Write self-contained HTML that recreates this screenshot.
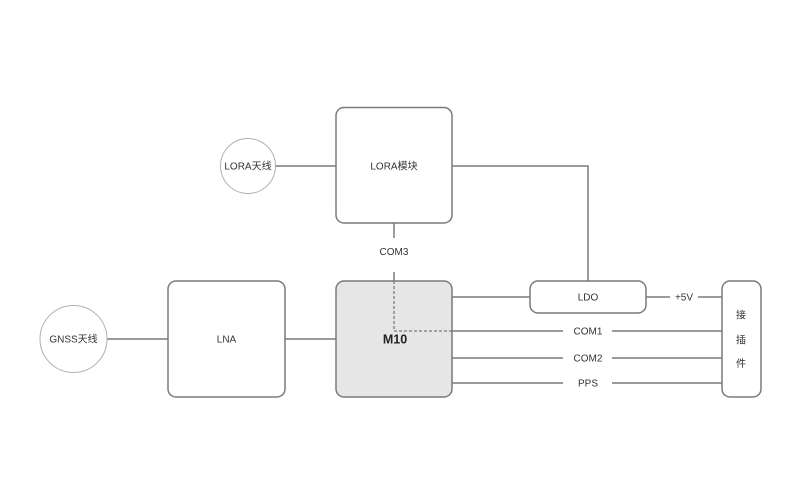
<!DOCTYPE html>
<html>
<head>
<meta charset="utf-8">
<style>
html,body{margin:0;padding:0;background:#fff;}
svg{display:block;}
text{font-family:"Liberation Sans","Noto Sans CJK SC",sans-serif;fill:#333;font-size:10px;}
</style>
</head>
<body>
<svg width="800" height="500" viewBox="0 0 800 500" xmlns="http://www.w3.org/2000/svg">
  <g fill="none" stroke="#7a7a7a" stroke-width="1.5">
    <!-- LORA module -->
    <rect x="336" y="107.5" width="116" height="115.5" rx="8"/>
    <!-- LNA -->
    <rect x="168" y="281" width="117" height="116" rx="8"/>
    <!-- M10 -->
    <rect x="336" y="281" width="116" height="116" rx="8" fill="#e6e6e6"/>
    <!-- LDO -->
    <rect x="530" y="281" width="116" height="32" rx="8"/>
    <!-- connector -->
    <rect x="722" y="281" width="39" height="116" rx="8"/>
    <!-- lines -->
    <line x1="276" y1="166" x2="336" y2="166"/>
    <polyline points="452,166 588,166 588,281"/>
    <line x1="394" y1="223" x2="394" y2="238"/>
    <line x1="394" y1="272" x2="394" y2="281"/>
    <line x1="107" y1="339" x2="168" y2="339"/>
    <line x1="285" y1="339" x2="336" y2="339"/>
    <line x1="452" y1="297" x2="530" y2="297"/>
    <line x1="646" y1="297" x2="670" y2="297"/>
    <line x1="698" y1="297" x2="722" y2="297"/>
    <line x1="452" y1="331" x2="563" y2="331"/>
    <line x1="612" y1="331" x2="722" y2="331"/>
    <line x1="452" y1="358" x2="563" y2="358"/>
    <line x1="612" y1="358" x2="722" y2="358"/>
    <line x1="452" y1="383" x2="563" y2="383"/>
    <line x1="612" y1="383" x2="722" y2="383"/>
  </g>
  <!-- dashed -->
  <polyline points="394,281 394,331 452,331" fill="none" stroke="#7a7a7a" stroke-width="1.3" stroke-dasharray="3,2"/>
  <!-- circles -->
  <circle cx="248" cy="166" r="27.5" fill="#fff" stroke="#b0b0b0" stroke-width="1"/>
  <circle cx="73.5" cy="339" r="33.5" fill="#fff" stroke="#b0b0b0" stroke-width="1"/>

  <g text-anchor="middle">
    <text x="248" y="169.5">LORA天线</text>
    <text x="73.5" y="342.5">GNSS天线</text>
    <text x="394" y="169.5">LORA模块</text>
    <text x="394" y="255">COM3</text>
    <text x="226.5" y="342.5">LNA</text>
    <text x="395" y="343.5" style="font-size:12.5px;font-weight:bold;fill:#222;">M10</text>
    <text x="588" y="300.5">LDO</text>
    <text x="684" y="300.5">+5V</text>
    <text x="588" y="334.5">COM1</text>
    <text x="588" y="361.5">COM2</text>
    <text x="588" y="386.5">PPS</text>
    <text x="741" y="318.5">接</text>
    <text x="741" y="343.5">插</text>
    <text x="741" y="367">件</text>
  </g>
</svg>
</body>
</html>
